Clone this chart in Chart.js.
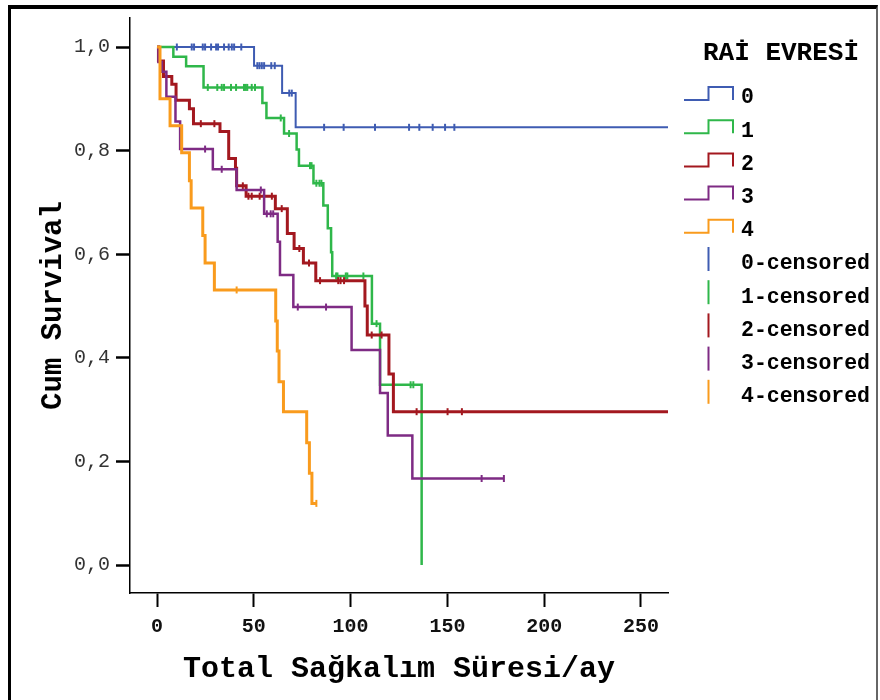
<!DOCTYPE html>
<html>
<head>
<meta charset="utf-8">
<script src="https://cdn.jsdelivr.net/npm/chart.js@4.4.0/dist/chart.umd.min.js"></script>
<style>
  body { margin: 0; background: #fff; }
  #wrap { position: relative; width: 880px; height: 700px; overflow: hidden; }
  #kmChart { position: absolute; left: 0; top: 0; }
  #frame { position: absolute; left: 8px; top: 5px; width: 865px; height: 740px;
           border-left: 3px solid #000; border-top: 4px solid #000; border-right: 2px solid #666;
           pointer-events: none; }
</style>
</head>
<body>
<div id="wrap">
  <canvas id="kmChart" width="880" height="700"></canvas>
  <div id="frame"></div>
</div>
<script>
// Kaplan-Meier survival by RAİ stage
var groups = ['0', '1', '2', '3', '4'];
var colors = ['#3f5cb2', '#2fb74a', '#a3181f', '#7e2b84', '#f99b1d'];
var widths = [2, 2.5, 3, 2.5, 3];

// stage 0
var time0 = [50.1, 64.6, 71.6];
var surv0 = [0.964, 0.911, 0.845];
var cens0 = [10.2, 17.9, 19.1, 23.6, 24.8, 27.9, 30.5, 31.5, 34.6, 37.0, 38.6, 39.8, 43.5,
             51.8, 52.9, 54.1, 55.3, 59.0, 60.8, 68.3, 69.6,
             86.3, 96.4, 112.6, 130.2, 135.5, 142.4, 148.8, 153.6];
var end0 = 264;

// stage 1
var time1 = [8.4, 15.0, 24.0, 54.4, 56.5, 65.6, 72.1, 73.3, 80.8, 85.9, 88.2, 89.9, 90.5, 111.0, 115.2, 136.7];
var surv1 = [0.981, 0.963, 0.922, 0.892, 0.863, 0.833, 0.802, 0.771, 0.737, 0.694, 0.650, 0.604, 0.558, 0.466, 0.348, 0];
var cens1 = [26.2, 31.1, 33.4, 34.6, 38.2, 40.8, 44.9, 45.8, 46.6, 48.9, 50.6, 63.9, 68.2, 79.0, 79.8,
             82.3, 83.9, 84.9, 92.5, 93.2, 97.5, 98.3, 106.6, 113.4, 131.0, 132.4];
var end1 = 136.7;

// stage 2
var time2 = [0.7, 3.3, 7.6, 9.8, 16.7, 18.8, 32.5, 37.0, 40.5, 41.1, 46.0, 61.1, 67.3, 70.8, 75.6, 82.0, 107.4, 108.6, 119.8, 122.1];
var surv2 = [0.973, 0.943, 0.928, 0.897, 0.881, 0.852, 0.837, 0.785, 0.766, 0.732, 0.712, 0.688, 0.640, 0.611, 0.583, 0.549, 0.500, 0.444, 0.369, 0.296];
var cens2 = [22.6, 29.6, 44.3, 47.2, 48.9, 53.0, 59.3, 64.4, 73.5, 78.5, 84.2, 93.6, 94.8, 96.6, 110.9, 116.0, 134.1, 150.1, 157.5];
var end2 = 264;

// stage 3
var time3 = [0.7, 2.4, 4.8, 9.5, 11.9, 28.8, 41.1, 55.3, 62.3, 63.5, 70.4, 100.5, 115.2, 119.2, 131.9];
var surv3 = [0.971, 0.952, 0.904, 0.856, 0.803, 0.764, 0.724, 0.678, 0.624, 0.560, 0.498, 0.415, 0.332, 0.250, 0.167];
var cens3 = [24.8, 33.4, 53.6, 56.7, 58.7, 60.0, 72.7, 87.3, 167.7, 179.2];
var end3 = 179.2;

// stage 4
var time4 = [1.5, 6.7, 12.7, 16.7, 17.6, 23.6, 24.8, 29.6, 61.3, 62.1, 63.0, 65.3, 77.3, 78.7, 80.0];
var surv4 = [0.900, 0.848, 0.796, 0.742, 0.689, 0.636, 0.583, 0.531, 0.471, 0.413, 0.354, 0.296, 0.236, 0.177, 0.119];
var cens4 = [41.1, 82.3];
var end4 = 82.3;

var xTickValues = [0, 50, 100, 150, 200, 250];
var yTickValues = [0, 0.2, 0.4, 0.6, 0.8, 1.0];
var yTickLabels = ['0,0', '0,2', '0,4', '0,6', '0,8', '1,0'];
var xTitle = 'Total Sağkalım Süresi/ay';
var yTitle = 'Cum Survival';
var legendTitle = 'RAİ EVRESİ';

var allTimes = [time0, time1, time2, time3, time4];
var allSurv = [surv0, surv1, surv2, surv3, surv4];
var allCens = [cens0, cens1, cens2, cens3, cens4];
var allEnds = [end0, end1, end2, end3, end4];

var FONT = '"Liberation Mono", "Courier New", monospace';

// build step curve points starting at (0, 1)
function stepCurve(times, surv, end) {
    var pts = [{x: 0, y: 1}];
    for (var i = 0; i < times.length; i++) {
        pts.push({x: times[i], y: surv[i]});
    }
    if (end > times[times.length - 1]) {
        pts.push({x: end, y: surv[surv.length - 1]});
    }
    return pts;
}

// survival value at time t (for placing censor marks)
function survAt(times, surv, t) {
    var s = 1;
    for (var i = 0; i < times.length; i++) {
        if (times[i] <= t) s = surv[i];
    }
    return s;
}

var datasets = [];
for (var g = 0; g < groups.length; g++) {
    datasets.push({
        type: 'line',
        label: groups[g],
        data: stepCurve(allTimes[g], allSurv[g], allEnds[g]),
        borderColor: colors[g],
        borderWidth: widths[g],
        stepped: 'before',
        pointRadius: 0,
        fill: false,
        order: 10 - g
    });
    datasets.push({
        type: 'scatter',
        label: groups[g] + '-censored',
        data: allCens[g].map(function (t) {
            return {x: t, y: survAt(allTimes[g], allSurv[g], t)};
        }),
        pointStyle: 'line',
        rotation: 90,
        radius: 3.5,
        borderColor: colors[g],
        borderWidth: 2,
        order: 10 - g
    });
}

// legend on the right: step icons for curves, tick icons for censored
var legendPlugin = {
    id: 'raiLegend',
    afterDraw: function (chart) {
        var ctx = chart.ctx;
        ctx.save();
        ctx.fillStyle = '#000';
        ctx.textBaseline = 'middle';
        ctx.font = 'bold 26px ' + FONT;
        ctx.textAlign = 'center';
        ctx.fillText(legendTitle, 781, 53);

        ctx.font = 'bold 21.5px ' + FONT;
        ctx.textAlign = 'left';
        ctx.lineWidth = 2;
        for (var i = 0; i < 10; i++) {
            var y = 98 + i * 33.2;
            var c = colors[i % 5];
            ctx.strokeStyle = c;
            ctx.beginPath();
            if (i < 5) {
                ctx.moveTo(684, y + 2);
                ctx.lineTo(708.5, y + 2);
                ctx.lineTo(708.5, y - 11);
                ctx.lineTo(733, y - 11);
                ctx.lineTo(733, y + 2);
                ctx.stroke();
                ctx.fillText(groups[i], 741, y);
            } else {
                ctx.moveTo(708.5, y - 17);
                ctx.lineTo(708.5, y + 7);
                ctx.stroke();
                ctx.fillText(groups[i - 5] + '-censored', 741, y);
            }
        }
        ctx.restore();
    }
};

var ctx = document.getElementById('kmChart').getContext('2d');
var kmChart = new Chart(ctx, {
    type: 'line',
    data: { datasets: datasets },
    options: {
        responsive: false,
        animation: false,
        layout: { padding: { top: 16, right: 212, left: 0, bottom: 0 } },
        plugins: { legend: { display: false }, tooltip: { enabled: false } },
        scales: {
            x: {
                type: 'linear',
                min: -14,
                max: 264,
                afterBuildTicks: function (scale) {
                    scale.ticks = xTickValues.map(function (v) { return {value: v}; });
                },
                afterFit: function (scale) { scale.height = 107; },
                ticks: {
                    color: '#111',
                    padding: 8,
                    font: { family: FONT, size: 20, weight: 'bold' },
                    callback: function (v) { return String(v); }
                },
                grid: { display: true, drawOnChartArea: false, drawTicks: true,
                        tickLength: 14, tickWidth: 2, tickColor: '#000', color: '#000' },
                border: { display: true, color: '#000', width: 1.5 },
                title: { display: true, text: xTitle, color: '#000',
                         font: { family: FONT, size: 30, weight: 'bold' },
                         padding: { top: 0, bottom: 13 } }
            },
            y: {
                type: 'linear',
                min: -0.054,
                max: 1.056,
                afterBuildTicks: function (scale) {
                    scale.ticks = yTickValues.map(function (v) { return {value: v}; });
                },
                afterFit: function (scale) { scale.width = 130; },
                ticks: {
                    color: '#333',
                    padding: 6,
                    font: { family: FONT, size: 20 },
                    callback: function (v, i) { return yTickLabels[i]; }
                },
                grid: { display: true, drawOnChartArea: false, drawTicks: true,
                        tickLength: 14, tickWidth: 2.5, tickColor: '#000', color: '#000' },
                border: { display: true, color: '#000', width: 1.5 },
                title: { display: true, text: yTitle, color: '#000',
                         font: { family: FONT, size: 29, weight: 'bold' },
                         padding: { top: 36, bottom: 0 } }
            }
        }
    },
    plugins: [legendPlugin]
});
</script>
</body>
</html>
